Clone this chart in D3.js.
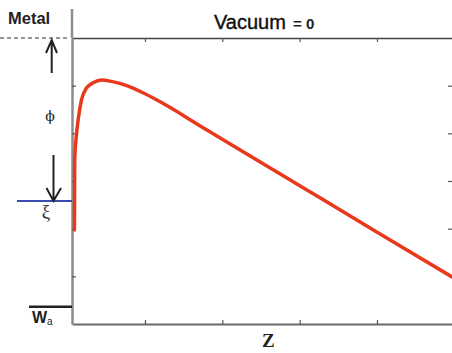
<!DOCTYPE html>
<html><head><meta charset="utf-8">
<script src="https://cdn.jsdelivr.net/npm/d3@7"></script>
<style>body{margin:0;background:#fff}svg{display:block}</style>
</head><body>
<svg id="c" width="452" height="353"></svg>
<script>
// ---- data ----
const zValues = [0.068, 0.072, 0.094, 0.116, 0.159, 0.224, 0.310, 0.418, 0.547, 0.763, 0.974, 1.194, 1.711, 2.357, 3.004, 3.651, 4.297, 4.970];
const potential = [-4.03, -2.56, -2.03, -1.72, -1.30, -1.05, -0.94, -0.88, -0.91, -1.01, -1.165, -1.355, -1.86, -2.49, -3.12, -3.75, -4.38, -5.03];
const xTicks = [1, 2, 3, 4];
const yTicks = [-1, -2, -3, -4, -5];
const vacuumLevel = [0];
const fermiLevel = [-3.42];
const waLevel = [-5.64];
const labels = ["Metal", "Vacuum", "= 0", "Z", "W", "a", "\u03d5", "\u03be"];

// ---- scales ----
const W = 452, H = 353;
const x = d3.scaleLinear().domain([0.056, 4.97]).range([72, 452]);
const y = d3.scaleLinear().domain([0, -6]).range([38, 324]);
const svg = d3.select("#c");
const x0 = x.range()[0];

// axes
const axTop = svg.append("g").attr("transform", `translate(0,${y(0)})`)
  .call(d3.axisBottom(x).tickValues(xTicks).tickSizeInner(4).tickSizeOuter(0).tickFormat(""));
axTop.select(".domain").attr("stroke", "#444").attr("stroke-width", 1.3);
const axBot = svg.append("g").attr("transform", `translate(0,${y(-6)})`)
  .call(d3.axisTop(x).tickValues(xTicks).tickSizeInner(4).tickSizeOuter(0).tickFormat(""));
axBot.select(".domain").attr("stroke", "#6a6a6a").attr("stroke-width", 2);
const axLeft = svg.append("g").attr("transform", `translate(${x0},0)`)
  .call(d3.axisRight(y).tickValues(yTicks).tickSizeInner(4).tickSizeOuter(0).tickFormat(""));
axLeft.select(".domain").attr("stroke", "#8c8c8c").attr("stroke-width", 2.5);
const axRight = svg.append("g").attr("transform", `translate(${W},0)`)
  .call(d3.axisLeft(y).tickValues(yTicks.slice(0,4)).tickSizeInner(4).tickSizeOuter(0).tickFormat(""));
axRight.select(".domain").remove();
svg.selectAll(".tick line").attr("stroke", "#555").attr("stroke-width", 1.2);

// left axis extension above vacuum line
svg.append("line").attr("x1", x0).attr("x2", x0).attr("y1", 9).attr("y2", y(0))
  .attr("stroke", "#8c8c8c").attr("stroke-width", 2.5);

// dashed vacuum line in metal side
svg.append("line").attr("x1", 0).attr("x2", x0 - 2).attr("y1", y(vacuumLevel[0])).attr("y2", y(vacuumLevel[0]))
  .attr("stroke", "#333").attr("stroke-width", 1.2).attr("stroke-dasharray", "4,3");

// fermi level (blue)
svg.append("line").attr("x1", 17).attr("x2", x0).attr("y1", y(fermiLevel[0])).attr("y2", y(fermiLevel[0]))
  .attr("stroke", "#3a4bb0").attr("stroke-width", 2);

// Wa level
svg.append("line").attr("x1", 29).attr("x2", x0).attr("y1", y(waLevel[0])).attr("y2", y(waLevel[0]))
  .attr("stroke", "#222").attr("stroke-width", 2.5);

// arrows
const ay = y(0) + 2, by = y(fermiLevel[0]);
svg.append("path").attr("d", `M51.7,73 L51.7,${ay} M46,${ay+13} L51.7,${ay} L57,${ay+13}`)
  .attr("fill", "none").attr("stroke", "#222").attr("stroke-width", 2);
svg.append("path").attr("d", `M53.5,155 L53.5,${by} M46.5,${by-13} L53.5,${by} L61,${by-13}`)
  .attr("fill", "none").attr("stroke", "#222").attr("stroke-width", 2);

// curve
const pts = zValues.map((z, i) => [z, potential[i]]);
svg.append("path").datum(pts)
  .attr("d", d3.line().x(d => x(d[0]) + 1.5).y(d => y(d[1])).curve(d3.curveMonotoneX))
  .attr("fill", "none").attr("stroke", "#e8391d").attr("stroke-width", 3.5).attr("stroke-linecap", "round");

// texts
svg.append("text").attr("x", 8).attr("y", 24).text(labels[0])
  .attr("font-family", "Liberation Sans, Arial, sans-serif").attr("font-weight", "bold").attr("font-size", 16.5).attr("fill", "#222");
svg.append("text").attr("x", 214).attr("y", 29).text(labels[1])
  .attr("font-family", "Liberation Sans, Arial, sans-serif").attr("font-size", 20).attr("fill", "#111")
  .attr("stroke", "#111").attr("stroke-width", 0.4);
svg.append("text").attr("x", 293).attr("y", 29).text(labels[2])
  .attr("font-family", "Liberation Sans, Arial, sans-serif").attr("font-size", 15).attr("font-weight", "bold").attr("fill", "#222");
svg.append("text").attr("x", 262).attr("y", 347).text(labels[3])
  .attr("font-family", "Liberation Serif, Times New Roman, serif").attr("font-weight", "bold").attr("font-size", 19).attr("fill", "#222");
const wt = svg.append("text").attr("x", 32).attr("y", 323)
  .attr("font-family", "Liberation Sans, Arial, sans-serif").attr("font-weight", "bold").attr("fill", "#222");
wt.append("tspan").attr("font-size", 16).text(labels[4]);
wt.append("tspan").attr("font-size", 10).attr("dy", 2).attr("font-weight", "normal").text(labels[5]);
svg.append("text").attr("x", 50).attr("y", 121).attr("text-anchor", "middle").text(labels[6])
  .attr("font-family", "DejaVu Serif, serif").attr("font-size", 14).attr("fill", "#222");
svg.append("text").attr("x", 46).attr("y", 218).attr("text-anchor", "middle").text(labels[7])
  .attr("font-family", "Liberation Serif, Times New Roman, serif").attr("font-size", 19).attr("fill", "#333");
</script>
</body></html>
